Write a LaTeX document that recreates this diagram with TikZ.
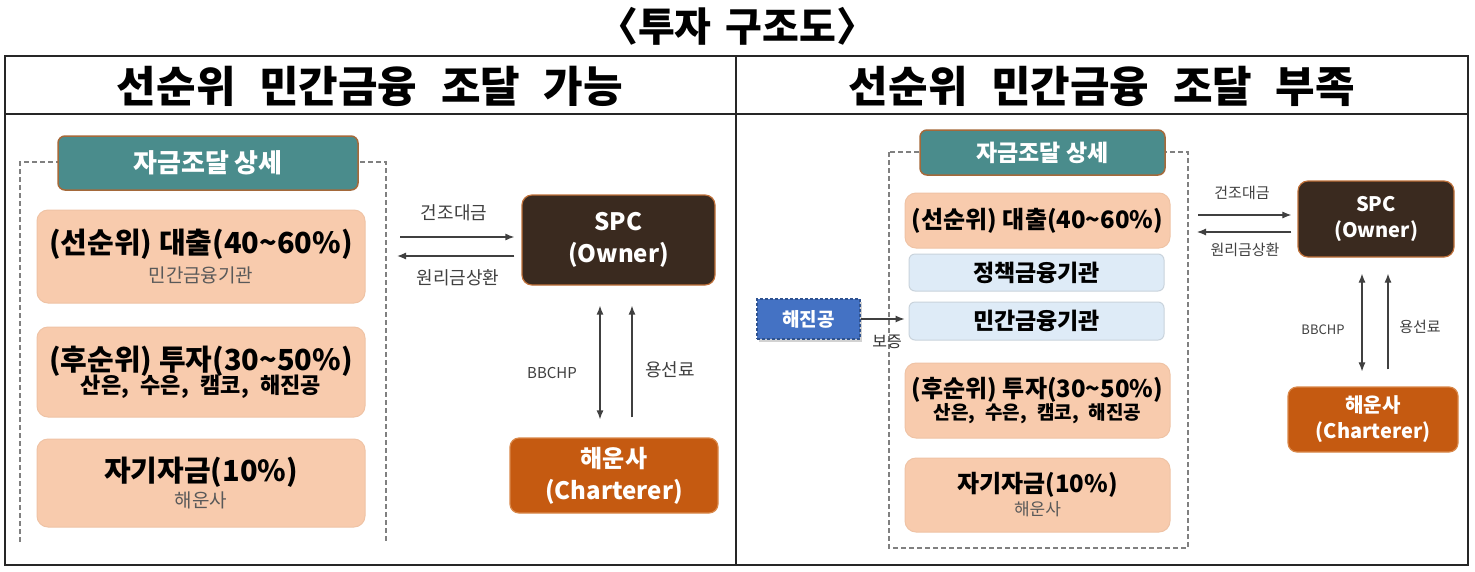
\documentclass[tikz,border=0pt]{standalone}
\usepackage{fontspec}
\setmainfont{Noto Sans CJK KR}
\usetikzlibrary{arrows.meta,shadows}
\definecolor{tealfill}{HTML}{4A8C8C}
\definecolor{tealedge}{HTML}{A5693A}
\definecolor{peachfill}{HTML}{F8CBAD}
\definecolor{peachedge}{HTML}{EFC3A5}
\definecolor{spcfill}{HTML}{3A2A1F}
\definecolor{spcedge}{HTML}{C0713A}
\definecolor{shipfill}{HTML}{C55A11}
\definecolor{shipedge}{HTML}{D9884A}
\definecolor{lbfill}{HTML}{DEEBF7}
\definecolor{lbedge}{HTML}{C9D3DC}
\definecolor{kobfill}{HTML}{4472C4}
\definecolor{kobedge}{HTML}{2F528F}
\definecolor{subgray}{HTML}{595959}
\definecolor{arrgray}{HTML}{404040}
\definecolor{dashgray}{HTML}{808080}
\newcommand\fsz[2]{\fontsize{#1}{#2}\selectfont}
\newcommand\wsp{\hspace{0.55em}}
\begin{document}
\begin{tikzpicture}[x=1pt,y=-1pt,
  frame/.style={draw=black!85, line width=1.6pt},
  dashframe/.style={draw=dashgray, line width=1.4pt, dash pattern=on 5pt off 3pt},
  tealbox/.style={rounded corners=7pt, fill=tealfill, draw=tealedge, line width=1.5pt, text=white, inner sep=0pt, font=\bfseries},
  peachbox/.style={rounded corners=11pt, fill=peachfill, draw=peachedge, line width=1pt, align=center, inner sep=0pt},
  bluebox/.style={rounded corners=6pt, fill=lbfill, draw=lbedge, line width=1pt, align=center, inner sep=0pt, font=\bfseries},
  spcbox/.style={rounded corners=10pt, fill=spcfill, draw=spcedge, line width=1.2pt, text=white, align=center, inner sep=0pt, font=\bfseries},
  shipbox/.style={rounded corners=9pt, fill=shipfill, draw=shipedge, line width=1.2pt, text=white, align=center, inner sep=0pt, font=\bfseries},
  kobbox/.style={fill=kobfill, draw=kobedge, line width=1.2pt, dash pattern=on 3pt off 2pt, text=white, inner sep=0pt, font=\bfseries, drop shadow={shadow xshift=2pt, shadow yshift=-3pt, opacity=0.35}},
  arr/.style={draw=arrgray, line width=1.3pt, -{Latex[length=9pt,width=7pt]}},
  arrb/.style={draw=arrgray, line width=1.3pt, {Latex[length=9pt,width=7pt]}-{Latex[length=9pt,width=7pt]}},
  lbl/.style={text=arrgray, inner sep=0pt}
]
\useasboundingbox (0,0) rectangle (1475,571);
\fill[white] (0,0) rectangle (1475,571);

% title and table frame
\node[font=\bfseries\fsz{40}{46}] (title) at (737,26) {〈투자\hspace{0.35em}구조도〉};
\draw[frame] (5,56) rectangle (1468,565);
\draw[frame] (5,114) -- (1468,114);
\draw[frame] (736,56) -- (736,565);
\node[font=\bfseries\fsz{43}{48}] (hl) at (370,86) {선순위\wsp 민간금융\wsp 조달\wsp 가능};
\node[font=\bfseries\fsz{43}{48}] (hr) at (1102,86) {선순위\wsp 민간금융\wsp 조달\wsp 부족};

% ---------------- left panel ----------------
\draw[dashframe] (20,542) -- (20,162) -- (386,162) -- (386,542);
\node[tealbox, minimum width=300pt, minimum height=54pt, font=\bfseries\fsz{26}{30}] (tl) at (208,163) {자금조달 상세};
\node[peachbox, minimum width=328pt, minimum height=93pt] (l1) at (201,256.5)
  {{\bfseries\fsz{29}{33}(선순위) 대출(40\textasciitilde60\%)}\\[6pt]{\fsz{19}{24}\color{subgray}민간금융기관}};
\node[peachbox, minimum width=328pt, minimum height=90pt] (l2) at (201,372)
  {{\bfseries\fsz{29}{33}(후순위) 투자(30\textasciitilde50\%)}\\[-3pt]{\bfseries\fsz{22}{25}산은,\hspace{0.3em} 수은,\hspace{0.3em} 캠코,\hspace{0.3em} 해진공}};
\node[peachbox, minimum width=328pt, minimum height=88pt] (l3) at (201,483)
  {{\bfseries\fsz{29}{33}자기자금(10\%)}\\[4pt]{\fsz{19}{24}\color{subgray}해운사}};

\node[spcbox, minimum width=193pt, minimum height=90pt, font=\bfseries\fsz{24}{32}] (spc1) at (618.5,240) {SPC\\(Owner)};
\node[shipbox, minimum width=208pt, minimum height=75pt, font=\bfseries\fsz{24}{32}] (ship1) at (614,475.5) {해운사\\(Charterer)};

\coordinate (la) at (400,237);
\coordinate (lb) at (397,256);
\draw[arr, shorten >=7pt] (la) -- (la -| spc1.west);
\draw[arr, shorten <=7pt] (lb -| spc1.west) -- (lb);
\node[lbl, font=\fsz{18}{21}] (lc1) at (454,213) {건조대금};
\node[lbl, font=\fsz{18}{21}] (lc2) at (458,278) {원리금상환};
\coordinate (vx1) at (600,0);
\coordinate (vx2) at (632,0);
\draw[arrb, shorten <=20pt, shorten >=18pt] (spc1.south -| vx1) -- (ship1.north -| vx1);
\draw[arr, shorten <=20pt, shorten >=20pt] (ship1.north -| vx2) -- (spc1.south -| vx2);
\node[lbl, font=\fsz{15}{18}] (lc3) at (552,373) {BBCHP};
\node[lbl, font=\fsz{18}{21}] (lc4) at (670,370) {용선료};

% ---------------- right panel ----------------
\draw[dashframe] (889,152) rectangle (1188,548);
\node[tealbox, minimum width=245pt, minimum height=45pt, font=\bfseries\fsz{23}{27}] (tr) at (1042.5,152.5) {자금조달 상세};
\node[peachbox, minimum width=265pt, minimum height=55pt] (r1) at (1037.5,220.5)
  {\bfseries\fsz{24}{28}(선순위) 대출(40\textasciitilde60\%)};
\node[bluebox, minimum width=255pt, minimum height=37pt, font=\bfseries\fsz{23}{27}] (rb1) at (1036.5,272.5) {정책금융기관};
\node[bluebox, minimum width=255pt, minimum height=38pt, font=\bfseries\fsz{23}{27}] (rb2) at (1036.5,321) {민간금융기관};
\node[peachbox, minimum width=265pt, minimum height=75pt] (r2) at (1037.5,400.5)
  {{\bfseries\fsz{24}{28}(후순위) 투자(30\textasciitilde50\%)}\\[0pt]{\bfseries\fsz{19}{22}산은,\hspace{0.3em} 수은,\hspace{0.3em} 캠코,\hspace{0.3em} 해진공}};
\node[peachbox, minimum width=265pt, minimum height=74pt] (r3) at (1037.5,495)
  {{\bfseries\fsz{24}{28}자기자금(10\%)}\\[3pt]{\fsz{17}{21}\color{subgray}해운사}};

\node[kobbox, minimum width=103pt, minimum height=40pt, font=\bfseries\fsz{19}{22}] (kob) at (808.5,319) {해진공};
\draw[arr, line width=1.1pt, shorten >=4pt] (kob.east) -- (kob.east -| rb2.west);
\node[lbl, text=black!80, font=\fsz{16}{19}] (lg) at (887,342) {보증};

\node[spcbox, minimum width=156pt, minimum height=76pt, font=\bfseries\fsz{20}{26}] (spc2) at (1376,219) {SPC\\(Owner)};
\node[shipbox, minimum width=170pt, minimum height=65pt, font=\bfseries\fsz{20}{26}] (ship2) at (1373,419.5) {해운사\\(Charterer)};

\coordinate (ra) at (1198,215);
\coordinate (rb) at (1197,232);
\draw[arr, line width=1.1pt, shorten >=6pt] (ra) -- (ra -| spc2.west);
\draw[arr, line width=1.1pt, shorten <=6pt] (rb -| spc2.west) -- (rb);
\node[lbl, font=\fsz{15}{18}] (rc1) at (1242,193) {건조대금};
\node[lbl, font=\fsz{15}{18}] (rc2) at (1245,250) {원리금상환};
\coordinate (vx3) at (1362,0);
\coordinate (vx4) at (1388,0);
\draw[arrb, line width=1.1pt, shorten <=16pt, shorten >=15pt] (spc2.south -| vx3) -- (ship2.north -| vx3);
\draw[arr, line width=1.1pt, shorten <=17pt, shorten >=16pt] (ship2.north -| vx4) -- (spc2.south -| vx4);
\node[lbl, font=\fsz{13}{16}] (rc3) at (1323,330) {BBCHP};
\node[lbl, font=\fsz{15}{18}] (rc4) at (1420,327) {용선료};
\end{tikzpicture}
\end{document}
